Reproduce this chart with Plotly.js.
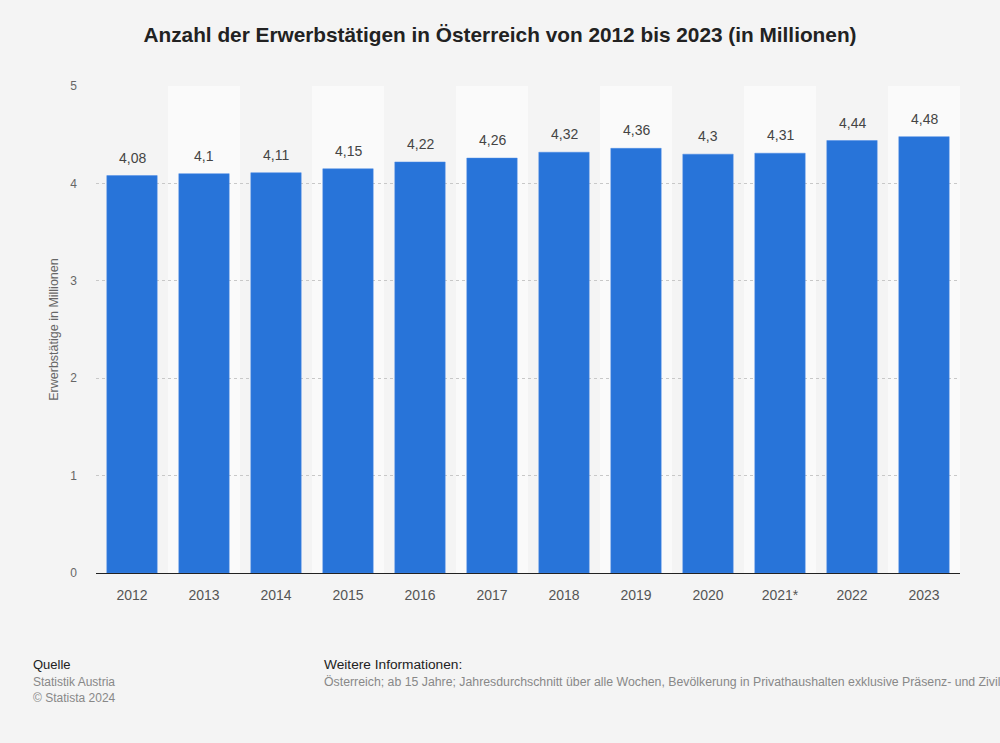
<!DOCTYPE html>
<html><head><meta charset="utf-8">
<script src="https://cdn.plot.ly/plotly-3.0.1.min.js"></script>
<style>html,body{margin:0;padding:0;background:#f4f4f4;}#c{width:1000px;height:743px;}</style>
</head><body><div id="c"></div>
<script>
const years = ["2012","2013","2014","2015","2016","2017","2018","2019","2020","2021*","2022","2023"];
const values = [4.08,4.1,4.11,4.15,4.22,4.26,4.32,4.36,4.3,4.31,4.44,4.48];
const yTicks = [0,1,2,3,4,5];

const labels = values.map(v => String(v).replace('.', ','));
const font = "Liberation Sans, Arial, sans-serif";
const shapes = [];
years.forEach((y,i) => {
  if (i % 2 === 1) shapes.push({type:'rect', xref:'x', yref:'paper', x0:i-0.5, x1:i+0.5, y0:0, y1:1, fillcolor:'#fafafa', line:{width:0}, layer:'below'});
});
const valueLabels = values.map((v,i) => ({xref:'x', yref:'y', x:i, y:v, text:labels[i], showarrow:false, yanchor:'bottom', yshift:8,
  font:{family:font, size:14, color:'#444'}}));
const trace = {type:'bar', x: years.map((_,i)=>i), y: values,
  marker:{color:'#2874d9', line:{color:'#4a8ae6', width:0.5}}, width:0.7, hoverinfo:'none'};
const fx = -0.0725 - 2/864;
const layout = {
  width:1000, height:743, paper_bgcolor:'#f4f4f4', plot_bgcolor:'rgba(0,0,0,0)',
  margin:{l:96, r:40, t:86, b:170},
  font:{family:font},
  title:{text:'<b>Anzahl der Erwerbstätigen in Österreich von 2012 bis 2023 (in Millionen)</b>', x:0.5, xanchor:'center', y:0.953, yanchor:'middle', font:{family:font, size:20.8, color:'#222'}},
  xaxis:{tickmode:'array', tickvals: years.map((_,i)=>i), ticktext: years, range:[-0.5, years.length-0.5], showgrid:false, zeroline:false,
    showline:true, linecolor:'#222', linewidth:1.2, ticks:'', tickfont:{family:font, size:14, color:'#555'}, ticklabelstandoff:9},
  yaxis:{range:[0,5], tickvals:yTicks, showgrid:true, gridcolor:'#c8c8c8', griddash:'dot', gridwidth:1, zeroline:false, showline:false,
    tickfont:{family:font, size:12, color:'#666'}, ticklabelstandoff:18,
    title:{text:'Erwerbstätige in Millionen', font:{family:font, size:12.5, color:'#666'}, standoff:8}},
  shapes: shapes,
  showlegend:false,
  annotations: valueLabels.concat([
    {xref:'paper', yref:'paper', x:fx, y:-0.187, xanchor:'left', yanchor:'middle', text:'Quelle', showarrow:false, font:{family:font, size:13, color:'#222'}},
    {xref:'paper', yref:'paper', x:fx, y:-0.224, xanchor:'left', yanchor:'middle', text:'Statistik Austria', showarrow:false, font:{family:font, size:12, color:'#888'}},
    {xref:'paper', yref:'paper', x:fx, y:-0.256, xanchor:'left', yanchor:'middle', text:'© Statista 2024', showarrow:false, font:{family:font, size:12, color:'#888'}},
    {xref:'paper', yref:'paper', x:0.264-2/864, y:-0.187, xanchor:'left', yanchor:'middle', text:'Weitere Informationen:', showarrow:false, font:{family:font, size:13.7, color:'#222'}},
    {xref:'paper', yref:'paper', x:0.264-2/864, y:-0.224, xanchor:'left', yanchor:'middle', text:'Österreich; ab 15 Jahre; Jahresdurchschnitt über alle Wochen, Bevölkerung in Privathaushalten exklusive Präsenz- und Zivildiener', showarrow:false, font:{family:font, size:12.3, color:'#888'}}
  ])
};
Plotly.newPlot('c', [trace], layout, {staticPlot:true});
</script></body></html>
